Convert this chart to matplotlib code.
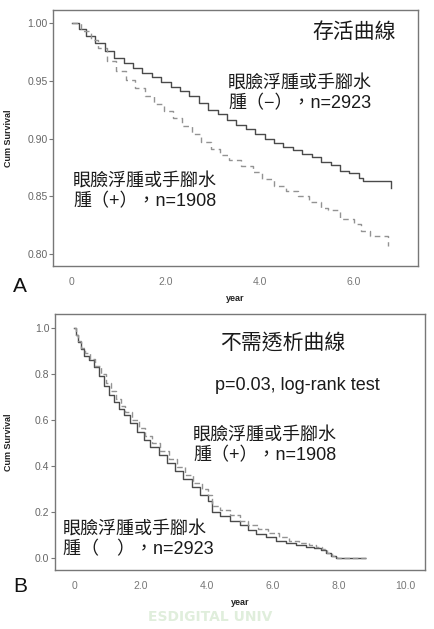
import matplotlib
matplotlib.use("Agg")
import matplotlib.pyplot as plt

# ---------------- data ----------------
# Panel A: survival curves
a_neg_t = [0, 0.15, 0.3, 0.5, 0.7, 0.9, 1.1, 1.3, 1.5, 1.7, 1.9, 2.1, 2.3, 2.5, 2.7, 2.9,
           3.1, 3.3, 3.5, 3.7, 3.9, 4.1, 4.3, 4.5, 4.7, 4.9, 5.1, 5.3, 5.5, 5.7, 5.9,
           6.1, 6.2, 6.78]
a_neg_s = [1.000, 0.995, 0.989, 0.983, 0.976, 0.970, 0.965, 0.961, 0.957, 0.953, 0.949,
           0.945, 0.941, 0.937, 0.931, 0.925, 0.921, 0.916, 0.912, 0.908, 0.904, 0.900,
           0.896, 0.893, 0.890, 0.887, 0.884, 0.880, 0.877, 0.872, 0.870, 0.866, 0.863,
           0.857]
a_pos_t = [0, 0.2, 0.4, 0.55, 0.75, 0.95, 1.15, 1.35, 1.55, 1.75, 1.95, 2.15, 2.35, 2.55,
           2.75, 2.95, 3.15, 3.35, 3.6, 3.85, 4.05, 4.3, 4.55, 4.8, 5.05, 5.3, 5.45, 5.7,
           6.0, 6.15, 6.35, 6.72]
a_pos_s = [1.000, 0.993, 0.985, 0.978, 0.967, 0.958, 0.951, 0.944, 0.937, 0.930, 0.924,
           0.918, 0.911, 0.904, 0.897, 0.891, 0.886, 0.881, 0.876, 0.871, 0.865, 0.859,
           0.855, 0.850, 0.845, 0.840, 0.838, 0.830, 0.826, 0.820, 0.816, 0.807]

# Panel B: dialysis-free curves
b_neg_t = [0, 0.05, 0.1, 0.2, 0.3, 0.45, 0.6, 0.75, 0.9, 1.05, 1.2, 1.35, 1.5, 1.7, 1.9,
           2.1, 2.3, 2.55, 2.8, 3.05, 3.3, 3.55, 3.8, 4.05, 4.15, 4.4, 4.7, 5.0, 5.25,
           5.5, 5.8, 6.1, 6.4, 6.7, 7.0, 7.25, 7.45, 7.6, 7.75, 7.9, 8.8]
b_neg_s = [1.0, 0.97, 0.94, 0.91, 0.88, 0.86, 0.83, 0.79, 0.75, 0.71, 0.68, 0.65, 0.62,
           0.585, 0.55, 0.515, 0.483, 0.45, 0.413, 0.378, 0.342, 0.31, 0.275, 0.248,
           0.200, 0.183, 0.162, 0.142, 0.122, 0.106, 0.090, 0.076, 0.065, 0.055, 0.048,
           0.043, 0.035, 0.022, 0.010, 0.002, 0.0]
b_pos_t = [0, 0.05, 0.12, 0.22, 0.33, 0.48, 0.63, 0.8, 0.95, 1.1, 1.25, 1.4, 1.55, 1.75,
           1.95, 2.15, 2.35, 2.6, 2.85, 3.1, 3.35, 3.6, 3.85, 4.05, 4.15, 4.4, 4.7, 5.0,
           5.25, 5.55, 5.85, 6.2, 6.5, 6.8, 7.1, 7.3, 7.5, 7.65, 7.8, 7.95, 8.85]
b_pos_s = [1.0, 0.97, 0.945, 0.915, 0.89, 0.865, 0.835, 0.80, 0.76, 0.725, 0.69, 0.66,
           0.635, 0.60, 0.565, 0.53, 0.50, 0.465, 0.43, 0.395, 0.36, 0.328, 0.298, 0.275,
           0.228, 0.21, 0.185, 0.163, 0.143, 0.125, 0.107, 0.090, 0.075, 0.064, 0.055,
           0.050, 0.038, 0.022, 0.010, 0.002, 0.0]

a_yticks = [0.80, 0.85, 0.90, 0.95, 1.00]
a_yticklabels = ["0.80", "0.85", "0.90", "0.95", "1.00"]
a_xticks = [0, 2, 4, 6]
a_xticklabels = ["0", "2.0", "4.0", "6.0"]
b_yticks = [0.0, 0.2, 0.4, 0.6, 0.8, 1.0]
b_yticklabels = ["0.0", "0.2", "0.4", "0.6", "0.8", "1.0"]
b_xticks = [0, 2, 4, 6, 8, 10]
b_xticklabels = ["0", "2.0", "4.0", "6.0", "8.0", "10.0"]

title_a = "存活曲線"
title_b = "不需透析曲線"
lab_neg_a = "眼臉浮腫或手腳水\n腫（−），n=2923"
lab_pos = "眼臉浮腫或手腳水\n腫（+），n=1908"
lab_neg_b = "眼臉浮腫或手腳水\n腫（　），n=2923"
ptext = "p=0.03, log-rank test"

# ---------------- drawing ----------------
W, H = 435, 629
fig = plt.figure(figsize=(W / 100, H / 100), dpi=100)
fig.patch.set_facecolor("white")

CJK = ["Liberation Sans", "Noto Sans CJK TC", "DejaVu Sans"]


def px_axes(l, t, r, b):
    return fig.add_axes([l / W, 1 - b / H, (r - l) / W, (b - t) / H])


def style(ax, xt, xtl, yt, ytl):
    for s in ax.spines.values():
        s.set_color("#777777")
        s.set_linewidth(1.0)
    ax.set_xticks(xt)
    ax.set_xticklabels(xtl)
    ax.set_yticks(yt)
    ax.set_yticklabels(ytl)
    ax.tick_params(axis="y", length=3, width=0.8, color="#777777", labelsize=7.5,
                   labelcolor="#666666", pad=1)
    ax.tick_params(axis="x", length=0, labelsize=7.5, labelcolor="#777777", pad=8)
    for lab in ax.get_xticklabels() + ax.get_yticklabels():
        lab.set_family("Liberation Sans")
    ax.set_ylabel("Cum Survival", fontsize=6.5, fontweight="bold",
                  family="Liberation Sans", color="#222222", labelpad=4)
    ax.set_xlabel("year", fontsize=6.5, fontweight="bold",
                  family="Liberation Sans", color="#222222", labelpad=3)


# Panel A
axA = px_axes(53, 10, 418, 266)
axA.plot(a_neg_t, a_neg_s, drawstyle="steps-post", color="#4a4a4a", lw=1.0)
axA.plot(a_pos_t, a_pos_s, drawstyle="steps-post", color="#939393", lw=1.0,
         dashes=(4, 3))
axA.set_xlim(-0.4, 7.36)
axA.set_ylim(0.7897, 1.0112)
style(axA, a_xticks, a_xticklabels, a_yticks, a_yticklabels)
axA.xaxis.set_label_coords((235 - 53) / (418 - 53), -(294 - 266) / (266 - 10))
axA.yaxis.set_label_coords(-(53 - 13) / (418 - 53), 0.5)

axA.text((354 - 53) / 365, 1 - (32 - 10) / 256, title_a, family=CJK, fontsize=15,
         ha="center", va="center", color="#1a1a1a", transform=axA.transAxes)
axA.text((228 - 53) / 365, 1 - (76 - 10) / 256, lab_neg_a, family=CJK, fontsize=13,
         ha="left", va="top", color="#1a1a1a", linespacing=1.15,
         transform=axA.transAxes)
axA.text((73 - 53) / 365, 1 - (174 - 10) / 256, lab_pos, family=CJK, fontsize=13,
         ha="left", va="top", color="#1a1a1a", linespacing=1.15,
         transform=axA.transAxes)
fig.text(20 / W, 1 - 286 / H, "A", fontsize=15, family="Liberation Sans",
         ha="center", va="center", color="#111111")

# Panel B
axB = px_axes(55, 314, 425, 570)
axB.plot(b_neg_t, b_neg_s, drawstyle="steps-post", color="#4a4a4a", lw=1.0)
axB.plot(b_pos_t, b_pos_s, drawstyle="steps-post", color="#939393", lw=1.0,
         dashes=(4, 2))
axB.set_xlim(-0.58, 10.6)
axB.set_ylim(-0.052, 1.061)
style(axB, b_xticks, b_xticklabels, b_yticks, b_yticklabels)
axB.xaxis.set_label_coords((240 - 55) / (425 - 55), -(598 - 570) / (570 - 314))
axB.yaxis.set_label_coords(-(55 - 13) / (425 - 55), 0.5)

axB.text((283 - 55) / 370, 1 - (343 - 314) / 256, title_b, family=CJK, fontsize=15,
         ha="center", va="center", color="#1a1a1a", transform=axB.transAxes)
axB.text((215 - 55) / 370, 1 - (385 - 314) / 256, ptext, family="Liberation Sans",
         fontsize=13, ha="left", va="center", color="#1a1a1a", transform=axB.transAxes)
axB.text((193 - 55) / 370, 1 - (428 - 314) / 256, lab_pos, family=CJK, fontsize=13,
         ha="left", va="top", color="#1a1a1a", linespacing=1.15,
         transform=axB.transAxes)
axB.text((63 - 55) / 370, 1 - (522 - 314) / 256, lab_neg_b, family=CJK, fontsize=13,
         ha="left", va="top", color="#1a1a1a", linespacing=1.15,
         transform=axB.transAxes)
fig.text(20 / W, 1 - 587 / H, "B", fontsize=15, family="Liberation Sans",
         ha="center", va="center", color="#111111")

# faint watermark near the bottom edge
fig.text(210 / W, 1 - 617 / H, "ESDIGITAL UNIV", fontsize=10, fontweight="bold",
         family="DejaVu Sans", ha="center", va="center", color="#e0eedc")

fig.savefig("out.png", dpi=100, facecolor="white")
